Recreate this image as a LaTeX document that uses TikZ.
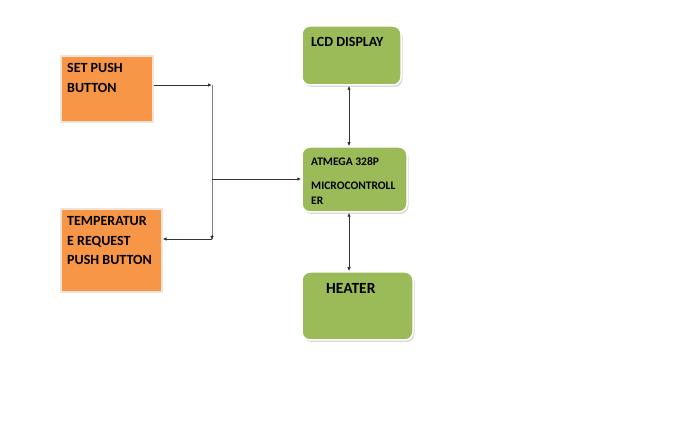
\documentclass[tikz,border=0pt]{standalone}
\usepackage{fontspec}
\setmainfont{Carlito}
\usetikzlibrary{arrows.meta,shadows,calc}
\definecolor{boxorange}{HTML}{F79646}
\definecolor{boxgreen}{HTML}{9BBB59}
\definecolor{orangeedge}{HTML}{F5E3D6}
\definecolor{linegray}{HTML}{333333}
\begin{document}
\begin{tikzpicture}[x=1pt,y=-1pt,
  orangebox/.style={rectangle,fill=boxorange,draw=orangeedge,line width=1.2pt,inner sep=0pt,
    drop shadow={shadow xshift=1.2pt,shadow yshift=-1.5pt,opacity=0.25}},
  greenbox/.style={rectangle,rounded corners=8pt,fill=boxgreen,draw=white,line width=1.5pt,inner sep=0pt,
    drop shadow={shadow xshift=1.5pt,shadow yshift=-2pt,opacity=0.3}},
  lbl/.style={inner sep=0pt,anchor=north west,align=left,font=\bfseries,text=black},
  conn/.style={draw=linegray,line width=0.8pt},
  tip/.style={-{Latex[length=4pt,width=3.5pt]}},
  tips/.style={{Latex[length=4pt,width=3.5pt]}-{Latex[length=4pt,width=3.5pt]}}
]
\useasboundingbox (0,0) rectangle (694,430);
% boxes
\node[orangebox,minimum width=92pt,minimum height=66pt] (set) at (107,89) {};
\node[orangebox,minimum width=101pt,minimum height=83pt] (temp) at (111.5,250.5) {};
\node[greenbox,minimum width=99pt,minimum height=59pt] (lcd) at (351.5,55.5) {};
\node[greenbox,minimum width=105pt,minimum height=65pt] (mcu) at (354.5,179.5) {};
\node[greenbox,minimum width=111pt,minimum height=68pt] (heater) at (357.5,306) {};
% labels
\node[lbl,font=\bfseries\fontsize{14}{20}\selectfont] (setlbl) at (67,63.5) {SET PUSH\\BUTTON};
\node[lbl,font=\bfseries\fontsize{14}{19.5}\selectfont] (templbl) at (67,216.5) {TEMPERATUR\\E REQUEST\\PUSH BUTTON};
\node[lbl,font=\bfseries\fontsize{14}{17}\selectfont] (lcdlbl) at (311,37) {LCD DISPLAY};
\node[lbl,font=\bfseries\fontsize{11.5}{15}\selectfont] (mculbl1) at (311,157) {ATMEGA 328P};
\node[lbl,font=\bfseries\fontsize{11.5}{15.5}\selectfont] (mculbl2) at (311,181.5) {MICROCONTROLL\\ER};
\node[lbl,font=\bfseries\fontsize{15.5}{18}\selectfont] (heaterlbl) at (326,283.5) {HEATER};
% junction coordinates
\coordinate (j1) at (212,85);
\coordinate (j2) at (212,179);
\coordinate (j3) at (212,239);
\coordinate (ax) at (349,0);
% connectors
\draw[conn,tip] (j1 -| set.east) -- (j1);
\draw[conn,draw=gray] (j1) -- (j3);
\draw[conn,tip] ($(j3)+(0,-4)$) -- ($(j3)+(0,1)$);
\draw[conn,tip] (j2) -- (j2 -| mcu.west);
\draw[conn,tip] (j3) -- (j3 -| temp.east);
\draw[conn,tips] (lcd.south -| ax) -- (mcu.north -| ax);
\draw[conn,tips] (mcu.south -| ax) -- (heater.north -| ax);
\end{tikzpicture}
\end{document}
